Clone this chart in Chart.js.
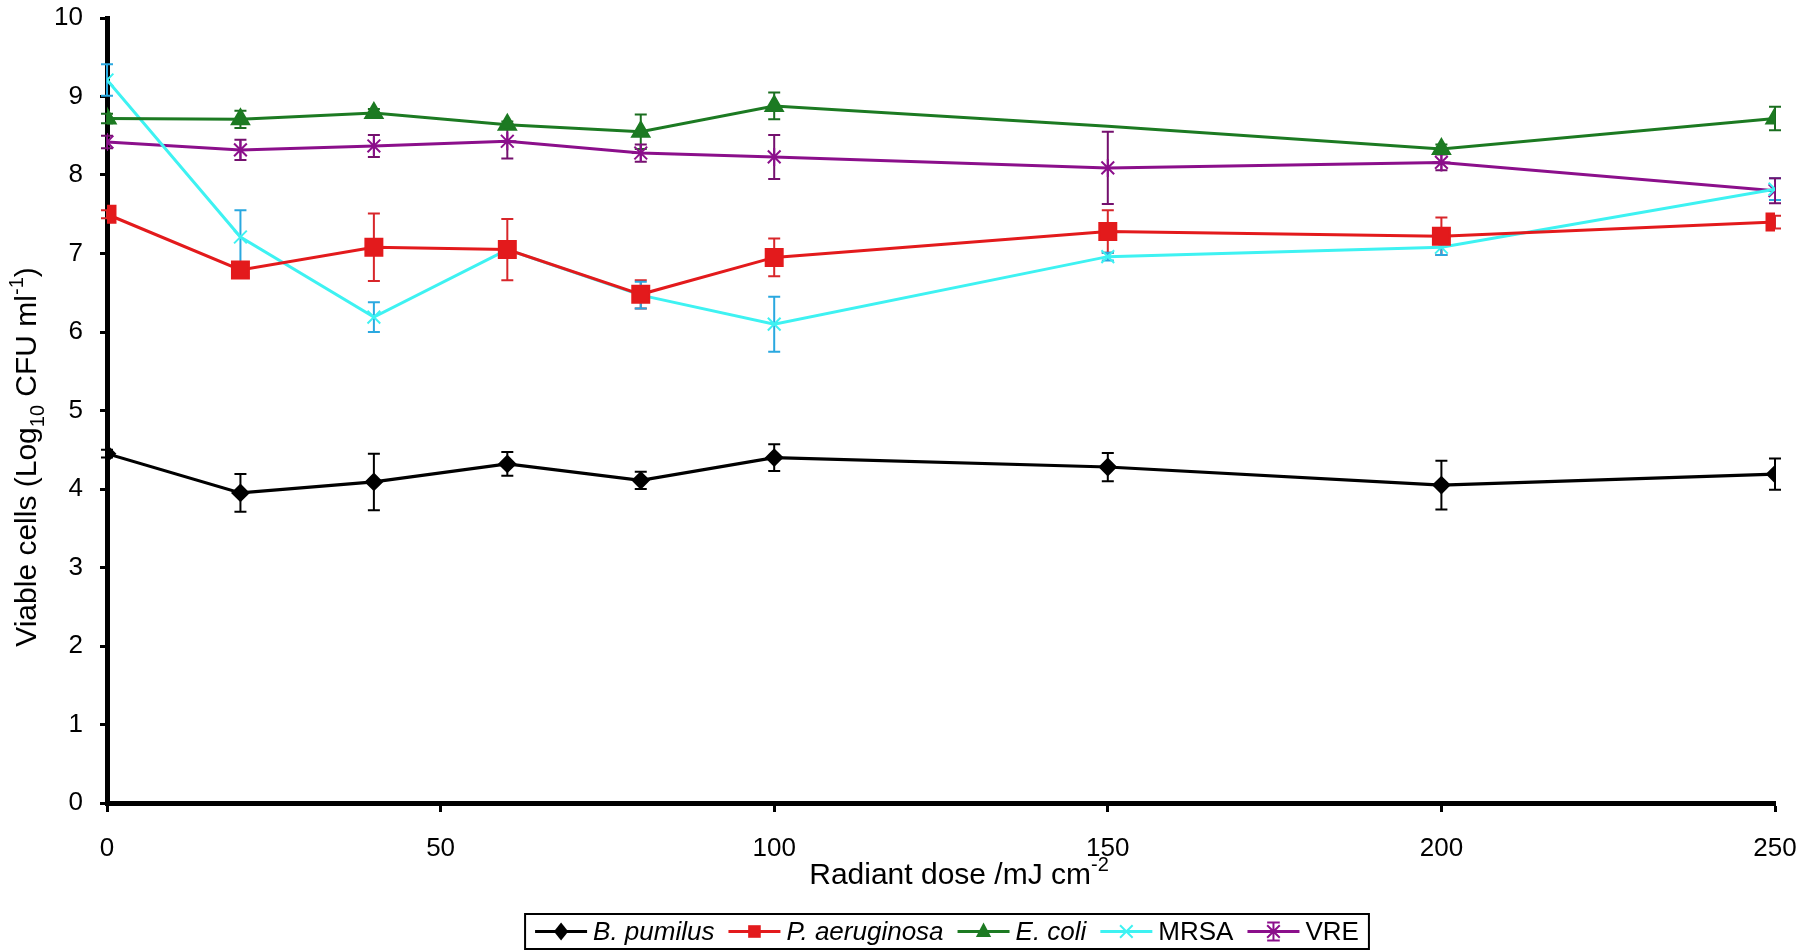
<!DOCTYPE html>
<html>
<head>
<meta charset="utf-8">
<title>Viable cells vs radiant dose</title>
<script src="https://cdn.jsdelivr.net/npm/chart.js@4/dist/chart.umd.min.js"></script>
<style>
  body { margin: 0; background: #fff; }
  canvas { display: block; }
</style>
</head>
<body>
<canvas id="chart" width="1818" height="952"></canvas>
<script>
const doses = [0, 20, 40, 60, 80, 100, 150, 200, 250];

const bPumilus = [4.45, 3.95, 4.09, 4.32, 4.11, 4.40, 4.28, 4.05, 4.19];
const bPumilusErr = [0.05, 0.24, 0.36, 0.15, 0.11, 0.17, 0.18, 0.31, 0.2];
const pAeruginosa = [7.5, 6.79, 7.08, 7.05, 6.48, 6.95, 7.28, 7.22, 7.40];
const pAeruginosaErr = [0.05, 0.06, 0.43, 0.39, 0.18, 0.24, 0.27, 0.24, 0.08];
const eColi = [8.72, 8.71, 8.79, 8.64, 8.55, 8.88, 8.62, 8.33, 8.72];
const eColiErr = [0.06, 0.11, 0.05, 0.04, 0.22, 0.17, 0, 0.06, 0.15];
const mrsa = [9.21, 7.21, 6.19, 7.05, 6.47, 6.10, 6.96, 7.08, 7.82];
const mrsaErr = [0.2, 0.34, 0.19, 0.05, 0.17, 0.35, 0.05, 0.1, 0.14];
const vre = [8.42, 8.32, 8.37, 8.43, 8.28, 8.23, 8.09, 8.16, 7.80];
const vreErr = [0.08, 0.13, 0.14, 0.22, 0.11, 0.28, 0.46, 0.1, 0.16];

const xTicks = [0, 50, 100, 150, 200, 250];
const yTicks = [0, 1, 2, 3, 4, 5, 6, 7, 8, 9, 10];

const FONT = "'Liberation Sans', Arial, sans-serif";

// plot frame in canvas pixels
const AREA = { left: 107, right: 1775, top: 18, bottom: 803 };

function series(label, values, errs, color, errColor, style, radius, italic, width) {
  return {
    label: label,
    data: doses.map((d, i) => ({ x: d, y: values[i] })),
    errors: errs,
    errColor: errColor,
    italic: italic,
    showLine: true,
    borderColor: color,
    backgroundColor: color,
    borderWidth: width,
    pointStyle: style,
    pointRadius: radius,
    pointBorderWidth: 2,
    pointHoverRadius: radius
  };
}

const datasets = [
  series("B. pumilus", bPumilus, bPumilusErr, "#000000", "#000000", "rectRot", 8, true, 3.2),
  series("P. aeruginosa", pAeruginosa, pAeruginosaErr, "#e31a1c", "#d8262a", "rect", 12, true, 3),
  series("E. coli", eColi, eColiErr, "#1c7a22", "#1a6e1f", "triangle", 10, true, 3),
  series("MRSA", mrsa, mrsaErr, "#3ef2f2", "#2aa8e0", "crossRot", 9, false, 3),
  series("VRE", vre, vreErr, "#8b0f8b", "#74106e", "star", 9, false, 3)
];
// E. coli has no visible marker at 150
datasets[2].pointRadius = doses.map(d => (d === 150 ? 0 : 10));

// pin the scales to the frame of the original figure
const pinFrame = {
  id: "pinFrame",
  afterLayout(chart) {
    const x = chart.scales.x, y = chart.scales.y;
    y.top = AREA.top; y.bottom = AREA.bottom; y.height = AREA.bottom - AREA.top;
    y.left = 0; y.right = AREA.left; y.width = AREA.left;
    x.left = AREA.left; x.right = AREA.right; x.width = AREA.right - AREA.left;
    x.top = AREA.bottom; x.bottom = chart.height; x.height = chart.height - AREA.bottom;
    y.configure();
    x.configure();
    Object.assign(chart.chartArea, AREA, { width: AREA.right - AREA.left, height: AREA.bottom - AREA.top });
  }
};

const errorBars = {
  id: "errorBars",
  beforeDatasetsDraw(chart) {
    const ctx = chart.ctx;
    const y = chart.scales.y;
    chart.data.datasets.forEach((ds, di) => {
      const meta = chart.getDatasetMeta(di);
      ctx.save();
      ctx.strokeStyle = ds.errColor;
      ctx.lineWidth = 2;
      meta.data.forEach((pt, i) => {
        const e = ds.errors[i];
        if (!e) return;
        const v = ds.data[i].y;
        const top = y.getPixelForValue(v + e);
        const bot = y.getPixelForValue(v - e);
        ctx.beginPath();
        ctx.moveTo(pt.x, top);
        ctx.lineTo(pt.x, bot);
        ctx.moveTo(pt.x - 6, top);
        ctx.lineTo(pt.x + 6, top);
        ctx.moveTo(pt.x - 6, bot);
        ctx.lineTo(pt.x + 6, bot);
        ctx.stroke();
      });
      ctx.restore();
    });
  }
};

function drawParts(ctx, parts, size) {
  let x = 0;
  parts.forEach(p => {
    const s = p.sub || p.sup ? Math.round(size * 0.65) : size;
    ctx.font = s + "px " + FONT;
    const dy = p.sub ? size * 0.28 : p.sup ? -size * 0.42 : 0;
    ctx.fillText(p.t, x, dy);
    x += ctx.measureText(p.t).width;
  });
}

function partsWidth(ctx, parts, size) {
  let w = 0;
  parts.forEach(p => {
    const s = p.sub || p.sup ? Math.round(size * 0.65) : size;
    ctx.font = s + "px " + FONT;
    w += ctx.measureText(p.t).width;
  });
  return w;
}

function marker(ctx, style, x, y, r, color) {
  ctx.save();
  ctx.fillStyle = color;
  ctx.strokeStyle = color;
  ctx.lineWidth = 2;
  ctx.beginPath();
  if (style === "rectRot") {
    ctx.moveTo(x, y - r); ctx.lineTo(x + r * 0.8, y); ctx.lineTo(x, y + r); ctx.lineTo(x - r * 0.8, y);
    ctx.closePath(); ctx.fill();
  } else if (style === "rect") {
    const s = r * 0.7;
    ctx.rect(x - s, y - s, 2 * s, 2 * s); ctx.fill();
  } else if (style === "triangle") {
    ctx.moveTo(x, y - r); ctx.lineTo(x + r * 0.85, y + r * 0.6); ctx.lineTo(x - r * 0.85, y + r * 0.6);
    ctx.closePath(); ctx.fill();
  } else if (style === "crossRot") {
    const s = r * 0.7;
    ctx.moveTo(x - s, y - s); ctx.lineTo(x + s, y + s);
    ctx.moveTo(x + s, y - s); ctx.lineTo(x - s, y + s); ctx.stroke();
  } else if (style === "star") {
    const s = r * 0.7;
    ctx.moveTo(x - s, y - s); ctx.lineTo(x + s, y + s);
    ctx.moveTo(x + s, y - s); ctx.lineTo(x - s, y + s);
    ctx.moveTo(x, y - r); ctx.lineTo(x, y + r);
    ctx.moveTo(x - s, y - r); ctx.lineTo(x + s, y - r);
    ctx.moveTo(x - s, y + r); ctx.lineTo(x + s, y + r);
    ctx.stroke();
  }
  ctx.restore();
}

const titlesAndLegend = {
  id: "titlesAndLegend",
  afterDraw(chart) {
    const ctx = chart.ctx;
    ctx.save();
    ctx.fillStyle = "#000";
    ctx.textBaseline = "alphabetic";

    // y axis title
    const yParts = [{ t: "Viable cells (Log" }, { t: "10", sub: true }, { t: " CFU ml" }, { t: "-1", sup: true }, { t: ")" }];
    const ySize = 30;
    const yw = partsWidth(ctx, yParts, ySize);
    ctx.save();
    ctx.translate(36, 457);
    ctx.rotate(-Math.PI / 2);
    ctx.translate(-yw / 2, 0);
    drawParts(ctx, yParts, ySize);
    ctx.restore();

    // x axis title
    const xParts = [{ t: "Radiant dose /mJ cm" }, { t: "-2", sup: true }];
    const xSize = 30;
    const xw = partsWidth(ctx, xParts, xSize);
    ctx.save();
    ctx.translate(959 - xw / 2, 884);
    drawParts(ctx, xParts, xSize);
    ctx.restore();

    // legend
    const size = 26, lineLen = 52, gapA = 6, gapB = 14, pad = 10;
    const items = chart.data.datasets.map(ds => {
      ctx.font = (ds.italic ? "italic " : "") + size + "px " + FONT;
      return { ds: ds, w: ctx.measureText(ds.label).width };
    });
    let total = pad * 2;
    items.forEach((it, i) => { total += lineLen + gapA + it.w + (i < items.length - 1 ? gapB : 0); });
    const bx = 947 - total / 2, by = 914, bh = 35;
    ctx.strokeStyle = "#000";
    ctx.lineWidth = 2;
    ctx.strokeRect(bx, by, total, bh);
    let cx = bx + pad;
    const cy = by + bh / 2;
    items.forEach(it => {
      const ds = it.ds;
      ctx.strokeStyle = ds.borderColor;
      ctx.lineWidth = ds.borderWidth;
      ctx.beginPath();
      ctx.moveTo(cx, cy);
      ctx.lineTo(cx + lineLen, cy);
      ctx.stroke();
      marker(ctx, ds.pointStyle, cx + lineLen / 2, cy, 9, ds.borderColor);
      cx += lineLen + gapA;
      ctx.fillStyle = "#000";
      ctx.font = (ds.italic ? "italic " : "") + size + "px " + FONT;
      ctx.textBaseline = "middle";
      ctx.fillText(ds.label, cx, cy + 1);
      cx += it.w + gapB;
    });
    ctx.restore();
  }
};

new Chart(document.getElementById("chart"), {
  type: "scatter",
  data: { datasets: datasets },
  plugins: [pinFrame, errorBars, titlesAndLegend],
  options: {
    responsive: false,
    animation: false,
    layout: { autoPadding: false, padding: { top: 18, right: 43, left: 0, bottom: 0 } },
    plugins: { legend: { display: false }, tooltip: { enabled: false } },
    scales: {
      x: {
        type: "linear",
        min: 0,
        max: 250,
        afterBuildTicks: s => { s.ticks = xTicks.map(v => ({ value: v })); },
        afterFit: s => { s.height = 149; },
        ticks: { color: "#000", font: { family: FONT, size: 26 }, padding: 21, maxRotation: 0 },
        grid: { drawOnChartArea: false, drawTicks: true, tickLength: 9, tickWidth: 3, tickColor: "#000" },
        border: { display: true, width: 5, color: "#000" }
      },
      y: {
        min: 0,
        max: 10,
        afterBuildTicks: s => { s.ticks = yTicks.map(v => ({ value: v })); },
        afterFit: s => { s.width = 107; },
        ticks: { color: "#000", font: { family: FONT, size: 26 }, padding: 17 },
        grid: { drawOnChartArea: false, drawTicks: true, tickLength: 7, tickWidth: 3, tickColor: "#000" },
        border: { display: true, width: 5, color: "#000" }
      }
    }
  }
});
</script>
</body>
</html>
